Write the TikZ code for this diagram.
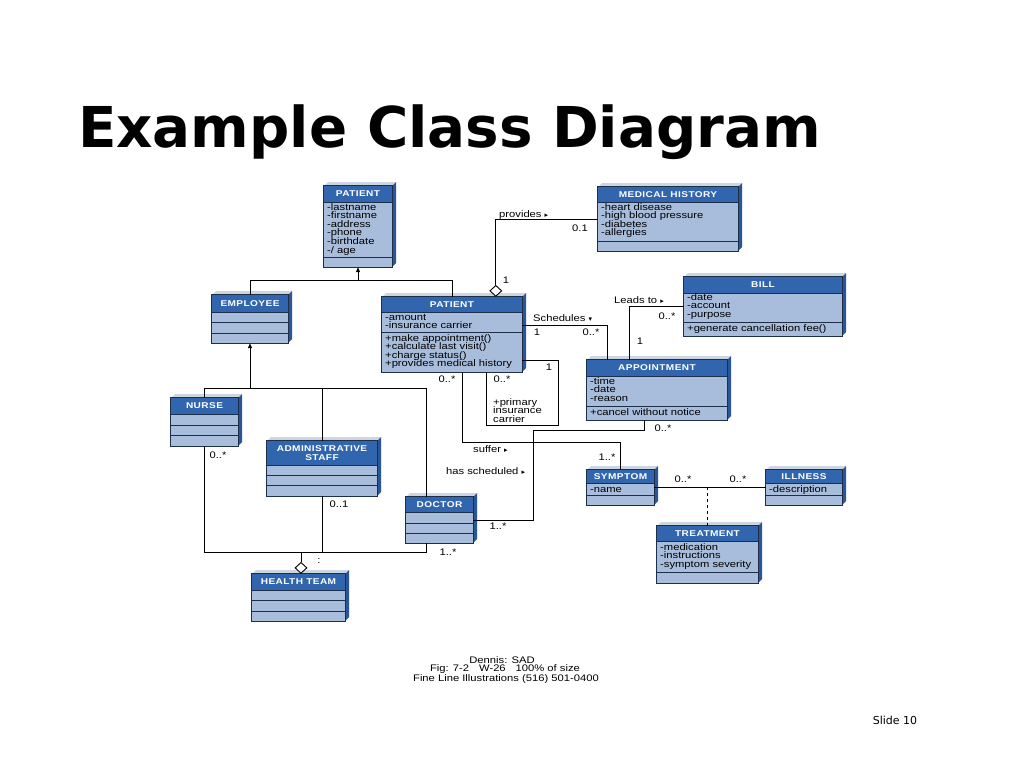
\documentclass[tikz,border=0pt]{standalone}
\usepackage{fontspec}
\usetikzlibrary{arrows.meta,shapes.geometric,fit,calc}
\newfontfamily\bfont[FakeStretch=1.18]{Liberation Sans}
\newfontfamily\hfont[FakeStretch=1.2,LetterSpace=5]{Liberation Sans}
\newfontfamily\symfont{DejaVu Sans}
\newfontfamily\titlefont{DejaVu Sans}
\newcommand\rtri{{\symfont\fontsize{7}{7}\selectfont ▸}}
\newcommand\dtri{{\symfont\fontsize{7}{7}\selectfont ▾}}
\definecolor{hdrc}{HTML}{3166AE}
\definecolor{bodyc}{HTML}{A8BDDB}
\definecolor{sidec}{HTML}{2A5596}
\definecolor{topc}{HTML}{CDD5E0}
\definecolor{linec}{HTML}{1C2E48}
\tikzset{
  attr/.style={inner sep=0pt, font=\bfont\fontsize{9.5}{9}\selectfont},
  hname/.style={inner sep=0pt, text=white, font=\hfont\bfseries\fontsize{8.4}{9}\selectfont, align=center},
  lbl/.style={inner sep=0pt, font=\bfont\fontsize{9.5}{9}\selectfont},
  conn/.style={line width=1pt, draw=black},
  border/.style={draw=linec, line width=1.1pt},
  agg/.style={diamond, draw=black, fill=white, line width=0.9pt, minimum width=12pt, minimum height=11pt, inner sep=0pt},
  gen/.style={conn, -{Triangle[length=5pt,width=4pt]}},
}
\newcommand\umlclass[8]{%
  \fill[topc] (#2,#3) -- (#2+4,#3-4) -- (#4+4,#3-4) -- (#4,#3) -- cycle;
  \fill[sidec] (#4,#3) -- (#4+4,#3-4) -- (#4+4,#5-4) -- (#4,#5) -- cycle;
  \node[fit={(#2,#3) (#4,#5)}, inner sep=0pt, fill=bodyc] (#1) {};
  \fill[hdrc] (#2,#3) rectangle (#4,#6);
  \foreach \s in {#6,#7} \draw[border, line width=0.9pt] (#2,\s) -- (#4,\s);
  \draw[border] (#1.south west) rectangle (#1.north east);
  \node[hname] (#1-t) at ({(#2+#4)/2},{(#3+#6)/2}) {#8};
}
\newcommand\umlattrs[4]{%
  \foreach \t [count=\i] in {#4} \node[attr, anchor=base west] (#1\i) at (#2, {#3+(\i-1)*8.6}) {\t};
}
\begin{document}
\begin{tikzpicture}[x=1pt,y=-1pt]
\useasboundingbox (0,0) rectangle (1024,768);
\fill[white] (0,0) rectangle (1024,768);

\node[anchor=base west, inner sep=0pt, font=\titlefont\bfseries\fontsize{56.3}{60}\selectfont] (title) at (78,147) {Example Class Diagram};

% classes
\umlclass{pat1}{324}{186}{392}{267}{202}{257}{PATIENT}
\umlattrs{pat1a}{327}{210}{-lastname,-firstname,-address,-phone,-birthdate,-/ age}
\umlclass{emp}{212}{295}{288}{343}{312}{322,333}{EMPLOYEE}
\umlclass{pat2}{382}{297}{522}{372}{312}{332}{PATIENT}
\umlattrs{pat2a}{385}{320}{-amount,-insurance carrier}
\umlattrs{pat2o}{385}{341}{+make appointment(),+calculate last visit(),+charge status(),+provides medical history}
\umlclass{medh}{598}{187}{738}{251}{202}{241}{MEDICAL HISTORY}
\umlattrs{medha}{601}{210}{-heart disease,-high blood pressure,-diabetes,-allergies}
\umlclass{bill}{684}{277}{842}{336}{293}{322}{BILL}
\umlattrs{billa}{687}{300}{-date,-account,-purpose}
\umlattrs{billo}{687}{331}{+generate cancellation fee()}
\umlclass{appt}{587}{360}{727}{420}{376}{406}{APPOINTMENT}
\umlattrs{appta}{590}{384}{-time,-date,-reason}
\umlattrs{appto}{590}{415}{+cancel without notice}
\umlclass{nurse}{171}{398}{238}{446}{414}{425,435}{NURSE}
\umlclass{admin}{267}{441}{377}{496}{465}{475,485}{ADMINISTRATIVE\\STAFF}
\umlclass{doctor}{406}{497}{473}{543}{512}{523,533}{DOCTOR}
\umlclass{hteam}{252}{574}{345}{621}{590}{600,611}{HEALTH TEAM}
\umlclass{symp}{587}{470}{654}{505}{483}{495}{SYMPTOM}
\umlattrs{sympa}{590}{492}{-name}
\umlclass{ill}{766}{470}{842}{505}{483}{495}{ILLNESS}
\umlattrs{illa}{769}{492}{-description}
\umlclass{treat}{657}{526}{758}{583}{541}{572}{TREATMENT}
\umlattrs{treata}{660}{550}{-medication,-instructions,-symptom severity}

% generalization to PATIENT
\coordinate (g1) at ($(pat1.south)+(0,13)$);
\draw[conn] (emp.north) |- (g1) -| (pat2.north);
\draw[gen] (g1) -- (pat1.south);
% generalization to EMPLOYEE
\coordinate (g2) at ($(emp.south)+(0,45)$);
\draw[conn] (nurse.north) |- (g2) -| ($(doctor.north west)+(21,0)$);
\draw[conn] (admin.north) -- (admin.north |- g2);
\draw[gen] (g2) -- (emp.south);
% health team aggregation
\node[agg, anchor=south] (dia1) at ($(hteam.north)+(2.5,0)$) {};
\coordinate (hj) at ($(dia1.north)+(0,-9)$);
\draw[conn] (nurse.south) |- (hj) -| ($(doctor.south west)+(21,0)$);
\draw[conn] (admin.south) -- (admin.south |- hj);
\draw[conn] (hj) -- (dia1.north);
% medical history aggregation
\node[agg, anchor=south] (dia2) at ($(pat2.north west)+(114,0)$) {};
\draw[conn] (dia2.north) |- (medh.west);
% schedules
\draw[conn] ($(pat2.north east)+(0,29)$) -| ($(appt.north west)+(21,0)$);
% leads to
\draw[conn] (bill.west) -| ($(appt.north west)+(43,0)$);
% primary insurance carrier
\draw[conn] ($(pat2.north east)+(0,64)$) -- ++(36,0) |- ($(pat2.south west)+(105,53)$) -- ($(pat2.south west)+(105,0)$);
% suffer
\draw[conn] ($(pat2.south west)+(81,0)$) |- ($(symp.north)+(0,-27)$) -- (symp.north);
% has scheduled
\draw[conn] (doctor.east) -| ($(appt.south west)+(-53,10)$) -| ($(appt.south west)+(58,0)$);
% symptom - illness, treatment
\draw[conn] (symp.east) -- (ill.west);
\draw[conn, dashed] (treat.north) -- (treat.north |- symp.east);

% labels
\node[lbl, anchor=base west] (lprov) at (499,217) {provides \rtri};
\node[lbl] (m01) at (580,228) {0.1};
\node[lbl] (m1a) at (506,280) {1};
\node[lbl, anchor=base west] (lsch) at (533,321) {Schedules \dtri};
\node[lbl] (m1b) at (537,332) {1};
\node[lbl] (m0b) at (591,332) {0..*};
\node[lbl, anchor=base west] (llead) at (614,303) {Leads to \rtri};
\node[lbl] (m0c) at (667,316) {0..*};
\node[lbl] (m1c) at (640,341) {1};
\node[lbl] (m1d) at (549,367) {1};
\node[lbl] (m0d) at (502,379) {0..*};
\umlattrs{prim}{493}{405}{+primary,insurance,carrier}
\node[lbl] (m0e) at (447,379) {0..*};
\node[lbl] (m0f) at (663,428) {0..*};
\node[lbl, anchor=base west] (lsuf) at (473,452) {suffer \rtri};
\node[lbl] (m1e) at (607,457) {1..*};
\node[lbl, anchor=base west] (lhas) at (446,474) {has scheduled \rtri};
\node[lbl] (m1f) at (498,526) {1..*};
\node[lbl] (m1g) at (448,552) {1..*};
\node[lbl] (m0g) at (683,479) {0..*};
\node[lbl] (m0h) at (738,479) {0..*};
\node[lbl] (m0i) at (218,455) {0..*};
\node[lbl] (m01b) at (339,504) {0..1};
\node[lbl] (mcol) at (319,561) {:};

% credits
\node[lbl] (cr1) at (502,660) {Dennis: SAD};
\node[lbl] (cr2) at (505,669.5) {Fig: 7-2\hspace{10pt}W-26\hspace{10pt}100\% of size};
\node[lbl] (cr3) at (506,679) {Fine Line Illustrations (516) 501-0400};
\node[inner sep=0pt, font=\symfont\fontsize{11}{12}\selectfont] (slide) at (895,720) {Slide 10};
\end{tikzpicture}
\end{document}
